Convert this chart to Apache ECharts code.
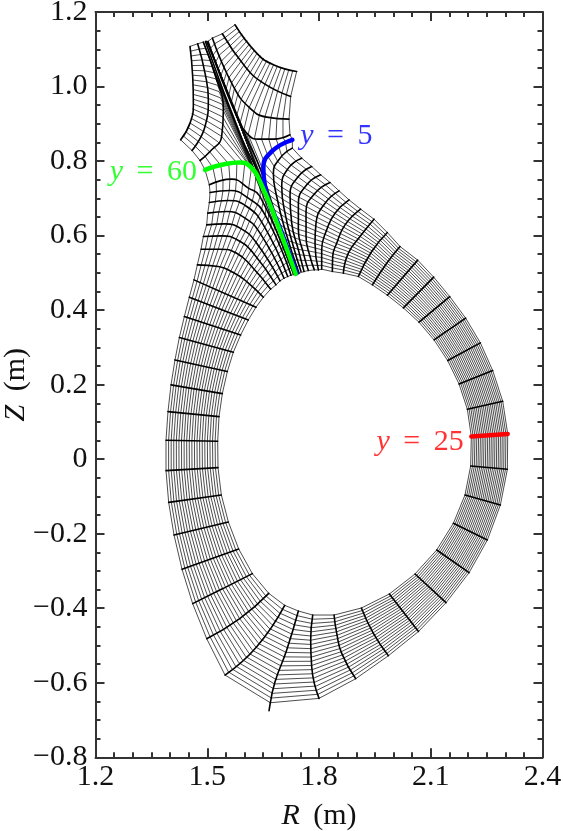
<!DOCTYPE html>
<html><head><meta charset="utf-8">
<style>html,body{margin:0;padding:0;background:#fff}#c{width:563px;height:831px}</style>
<script src="https://cdn.jsdelivr.net/npm/echarts@6/dist/echarts.min.js"></script>
</head><body><div id="c"></div>
<script>
// Constant-y grid lines, each listed from inner end to outer end as [R, Z] in metres.
const rightLegLines = [
 [[1.5745,1.1678],[1.6327,1.0917],[1.6775,1.0604],[1.7401,1.0425]],
 [[1.5405,1.1436],[1.6014,1.0559],[1.6506,1.0112],[1.7240,0.9754]],
 [[1.5137,1.1320],[1.5701,1.0022],[1.6148,0.9440],[1.6596,0.9199],[1.7195,0.9145]],
 [[1.5020,1.1230],[1.5790,0.9216],[1.6103,0.8724],[1.6372,0.8608],[1.6775,0.8608],[1.7222,0.8724]]
];
const y5Line = [[1.7401,0.5011],[1.6971,0.6174],[1.6551,0.7337],[1.6506,0.7830],[1.6730,0.8277],[1.7285,0.8590]];
const rightFanLines = [
 [[1.7464,0.5011],[1.7088,0.6174],[1.6864,0.7069],[1.6775,0.7696],[1.6954,0.8098],[1.7285,0.8367]],
 [[1.7517,0.5055],[1.7312,0.5727],[1.7088,0.6622],[1.7000,0.7338],[1.7177,0.7830],[1.7535,0.8098]],
 [[1.7598,0.5055],[1.7446,0.5637],[1.7267,0.6353],[1.7222,0.7114],[1.7446,0.7606],[1.7804,0.7874]],
 [[1.7714,0.5082],[1.7580,0.5548],[1.7446,0.6174],[1.7446,0.6890],[1.7670,0.7382],[1.8045,0.7651]],
 [[1.7875,0.5100],[1.7759,0.5458],[1.7652,0.5995],[1.7652,0.6666],[1.7893,0.7158],[1.8296,0.7445]],
 [[1.7983,0.5100],[1.7893,0.5816],[1.7920,0.6353],[1.8162,0.6890],[1.8538,0.7221]],
 [[1.8072,0.5118],[1.8072,0.5637],[1.8207,0.6174],[1.8430,0.6621],[1.8806,0.6979]],
 [[1.8359,0.5055],[1.8368,0.5458],[1.8475,0.5816],[1.8699,0.6308],[1.9119,0.6729]],
 [[1.8654,0.5011],[1.8788,0.5548],[1.9101,0.5995],[1.9477,0.6460]],
 [[1.9057,0.4921],[1.9415,0.5592],[1.9835,0.6102]],
 [[1.9433,0.4697],[1.9818,0.5279],[2.0175,0.5727]]
];
const rightSideLines = [
 [[1.9835,0.4421],[2.0649,0.5361]],
 [[2.0265,0.4081],[2.1079,0.4904]],
 [[2.0685,0.3696],[2.1509,0.4385]],
 [[2.1088,0.3222],[2.1938,0.3803]],
 [[2.1455,0.2667],[2.2332,0.3141]],
 [[2.1759,0.2040],[2.2663,0.2398]],
 [[2.1983,0.1360],[2.2932,0.1575]]
];
const y25Line = [[2.209,0.0626],[2.3066,0.0698]];
const lowerLines = [
 [[2.2072,-0.0162],[2.3057,-0.0251]],
 [[2.1920,-0.0940],[2.2869,-0.1209]],
 [[2.1607,-0.1701],[2.2520,-0.2148]],
 [[2.1160,-0.2417],[2.2028,-0.3026]],
 [[2.0578,-0.3061],[2.1410,-0.3831]],
 [[1.9889,-0.3598],[2.0671,-0.4604]],
 [[1.9138,-0.3974],[1.9460,-0.4654],[1.9863,-0.5254]],
 [[1.8404,-0.4162],[1.8476,-0.4654],[1.8610,-0.5191],[1.8986,-0.5871]],
 [[1.7831,-0.4162],[1.7777,-0.4833],[1.7804,-0.5549],[1.8001,-0.6399]],
 [[1.7446,-0.4054],[1.7133,-0.5102],[1.6820,-0.5952],[1.6694,-0.6516]],
 [[1.7079,-0.3902],[1.6328,-0.5012],[1.5477,-0.5773]],
 [[1.6650,-0.3580],[1.5880,-0.4251],[1.4985,-0.4797]],
 [[1.6211,-0.3052],[1.5433,-0.3446],[1.4609,-0.3857]],
 [[1.5844,-0.2390],[1.4323,-0.2936]],
 [[1.5567,-0.1665],[1.4108,-0.2014]],
 [[1.5378,-0.0941],[1.3964,-0.1138]],
 [[1.5289,-0.0207],[1.3893,-0.0287]],
 [[1.5280,0.0500],[1.3893,0.0527]],
 [[1.5316,0.1162],[1.3946,0.1297]],
 [[1.5405,0.1780],[1.4027,0.2013]],
 [[1.5539,0.2371],[1.4134,0.2684]],
 [[1.5700,0.2890],[1.4251,0.3284]],
 [[1.5897,0.3355],[1.4385,0.3847]],
 [[1.6103,0.3758],[1.4519,0.4367]],
 [[1.6309,0.4098],[1.4644,0.4832]]
];
const leftFanLines = [
 [[1.6506,0.4366],[1.6059,0.4787],[1.5701,0.5029],[1.5298,0.5189],[1.4734,0.5234]],
 [[1.6703,0.4581],[1.6193,0.5190],[1.5790,0.5548],[1.5343,0.5655],[1.4833,0.5655]],
 [[1.6846,0.4697],[1.6238,0.5548],[1.5835,0.5888],[1.5388,0.6013],[1.4895,0.5995]],
 [[1.6954,0.4805],[1.6327,0.5816],[1.5925,0.6192],[1.5477,0.6335],[1.4985,0.6308]],
 [[1.7061,0.4876],[1.6417,0.6085],[1.6014,0.6487],[1.5522,0.6666],[1.5012,0.6622]],
 [[1.7160,0.4921],[1.6506,0.6308],[1.6059,0.6800],[1.5567,0.6962],[1.5056,0.6908]],
 [[1.7249,0.4957],[1.6551,0.6577],[1.6104,0.7024],[1.5611,0.7230],[1.5074,0.7176]],
 [[1.7321,0.4975],[1.6417,0.7069],[1.6104,0.7293],[1.5656,0.7534],[1.5056,0.7382]]
];
const y60Line = [[1.7374,0.4993],[1.6909,0.6264],[1.6417,0.7472],[1.6148,0.7875],[1.5880,0.7982],[1.5388,0.7919],[1.4940,0.7785]];
const leftLegLines = [
 [[1.4895,1.1212],[1.5208,1.0335],[1.5432,0.9396],[1.5387,0.8680],[1.5074,0.8277],[1.4806,0.8035]],
 [[1.4743,1.1168],[1.4940,1.0380],[1.5029,0.9664],[1.4940,0.8948],[1.4591,0.8304]],
 [[1.4537,1.1096],[1.4609,1.0291],[1.4627,0.9574],[1.4537,0.9038],[1.4286,0.8590]]
];
const bandLines = [
 [[1.4949,1.1230],[1.5924,0.8635],[1.6345,0.7740],[1.6909,0.6264],[1.7374,0.4993]],
 [[1.4985,1.1230],[1.6041,0.8680],[1.6434,0.7785],[1.6971,0.6174],[1.7401,0.5011]]
];
const y35Tail = [[1.6694,-0.6516],[1.6659,-0.6730]];
const annotations = [
 {pos:[1.744,0.868], text:'{i|y}\u2009 = \u20095', color:'#0000ff', side:'right'},
 {pos:[1.4778,0.771], text:'{i|y}\u2009 = \u200960', color:'#00ff00', side:'left'},
 {pos:[2.194,0.045], text:'{i|y}\u2009 = \u200925', color:'#ff0000', side:'left'}
];
const surfaceCount = 20;
const rTicks = [1.2,1.5,1.8,2.1,2.4];
const zTicks = [-0.8,-0.6,-0.4,-0.2,0,0.2,0.4,0.6,0.8,1.0,1.2];

const allLines = [...rightLegLines, y5Line, ...rightFanLines, ...rightSideLines, y25Line,
                  ...lowerLines, ...leftFanLines, y60Line, ...leftLegLines];

// Only the y lines above are read from the picture. The thin constant-x surfaces are too dense to read one
// by one, so their vertices are placed at equal arc-length steps along those read lines.
function along(line, f){
  const seg=[]; let L=0;
  for(let i=1;i<line.length;i++){const d=Math.hypot(line[i][0]-line[i-1][0],line[i][1]-line[i-1][1]);seg.push(d);L+=d;}
  let t=f*L;
  for(let i=0;i<seg.length;i++){
    if(t<=seg[i]||i===seg.length-1){const u=t/seg[i];
      return [line[i][0]+(line[i+1][0]-line[i][0])*u, line[i][1]+(line[i+1][1]-line[i][1])*u];}
    t-=seg[i];
  }
}
const FONT='"Liberation Serif"';
const FS=30;
// My readings took Z = 0 about 0.002 m too high; correct them once here rather than retyping the tables.
const zCal=-0.002;
const cal=l=>l.map(p=>[p[0],p[1]+zCal]);
const series=[];
for(let k=0;k<=surfaceCount;k++){
  series.push({type:'line',silent:true,showSymbol:false,symbol:'none',z:2,
    lineStyle:{color:'#111',width:0.75},
    data:cal(allLines.map(l=>along(l,k/surfaceCount)))});
}
const thick=(data,color,width,z)=>({type:'line',silent:true,symbol:'none',smooth:0.5,z,
  lineStyle:{color,width,cap:'round'},data:cal(data)});
[...rightLegLines,...rightFanLines,...rightSideLines,...lowerLines,...leftFanLines,...leftLegLines,...bandLines,y35Tail]
  .forEach(l=>series.push(thick(l,'#000',1.6,3)));
series.push(thick(y5Line,'#0000ff',4.5,5));
series.push(thick(y60Line,'#00ff00',4.5,6));
series.push(thick(y25Line,'#ff0000',4.5,5));
annotations.forEach(a=>series.push({type:'scatter',silent:true,symbolSize:0,z:7,
  label:{show:true,position:a.side,distance:2,formatter:a.text,color:a.color,fontFamily:FONT,fontSize:FS,
    rich:{i:{fontStyle:'italic',fontFamily:FONT,fontSize:FS,color:a.color}}},
  data:[a.pos]}));

const axisCommon=(showLabel)=>({
  axisLine:{show:true,onZero:false,lineStyle:{color:'#333',width:2}},
  axisTick:{show:true,inside:true,length:9,lineStyle:{color:'#333',width:2}},
  minorTick:{show:true,length:5,lineStyle:{color:'#333',width:2}},
  splitLine:{show:false},minorSplitLine:{show:false},
  axisLabel:{show:showLabel,color:'#111',fontFamily:FONT,fontSize:FS,margin:5,showMinLabel:true,showMaxLabel:true,
    hideOverlap:false,formatter:v=>{const t=rTicks.concat(zTicks).find(x=>Math.abs(x-v)<1e-6);
      return t===0?'0':String(t.toFixed(1)).replace('-','\u2212');}}
});
const nameStyle={fontFamily:FONT,fontSize:FS,color:'#111',rich:{i:{fontStyle:'italic',fontFamily:FONT,fontSize:FS,color:'#111'}}};
const xa=(pos,lab)=>Object.assign({type:'value',min:rTicks[0],max:rTicks[rTicks.length-1],interval:0.3,position:pos},axisCommon(lab));
const ya=(pos,lab)=>Object.assign({type:'value',min:zTicks[0],max:zTicks[zTicks.length-1],interval:0.2,position:pos},axisCommon(lab));
const xb=xa('bottom',true); xb.minorTick.splitNumber=6; xb.name='{i|R}\u2009 (m)'; xb.nameLocation='middle'; xb.nameMoveOverlap=false; xb.nameGap=44; xb.nameTextStyle=nameStyle;
const xt=xa('top',false); xt.minorTick.splitNumber=6;
const yl=ya('left',true); yl.minorTick.splitNumber=4; yl.axisLabel.margin=8; yl.name='{i|Z}\u2009 (m)'; yl.nameLocation='middle'; yl.nameMoveOverlap=false; yl.nameGap=64; yl.nameTextStyle=nameStyle;
const yr=ya('right',false); yr.minorTick.splitNumber=4;

const chart=echarts.init(document.getElementById('c'),null,{renderer:'canvas'});
chart.setOption({animation:false,backgroundColor:'#fff',
  grid:{left:95.5,top:12,width:447,height:745.3,containLabel:false,outerBoundsMode:'none'},
  xAxis:[xb,xt],yAxis:[yl,yr],series});
</script></body></html>
